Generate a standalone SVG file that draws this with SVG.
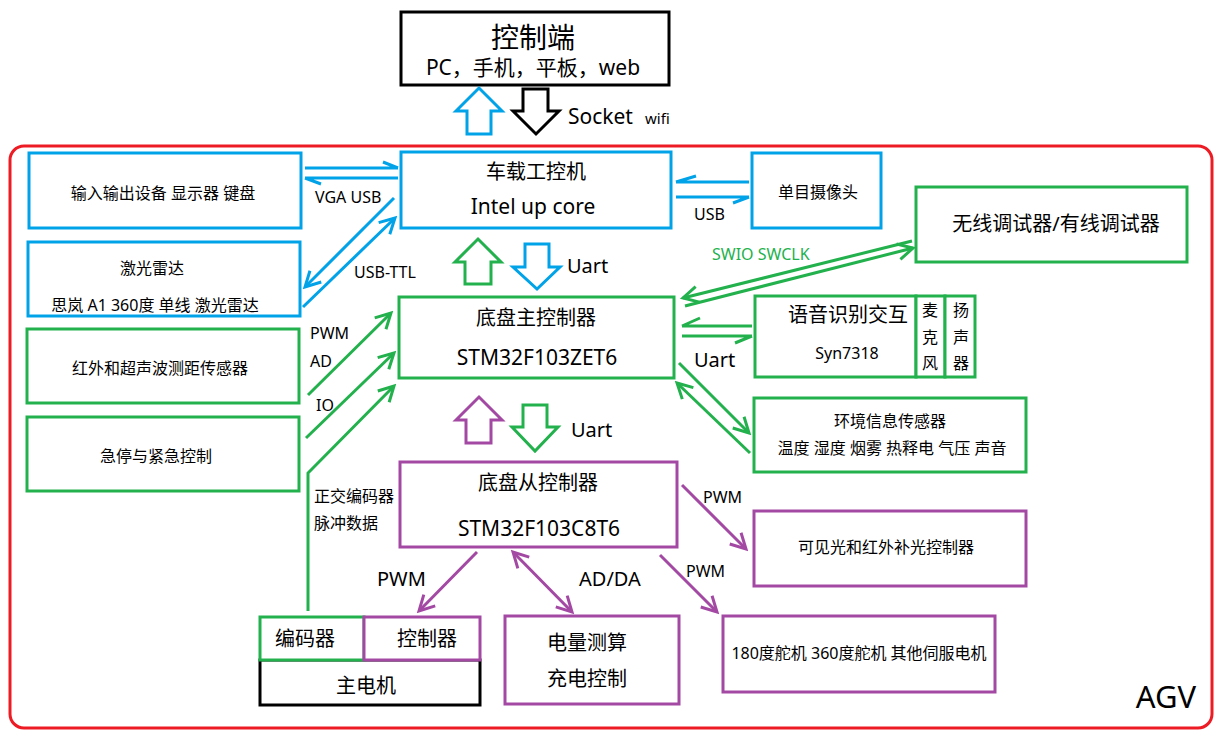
<svg xmlns="http://www.w3.org/2000/svg" width="1222" height="746" viewBox="0 0 1222 746">
<style>
text{font-family:"Noto Sans","Noto Sans CJK SC",sans-serif;fill:#000;text-anchor:middle}
.s{font-size:16px}.m{font-size:20px}.l{font-size:21px}
.st{text-anchor:start}
.bb{fill:#fff;stroke:#00a2e8;stroke-width:3}
.gb{fill:#fff;stroke:#22b14c;stroke-width:3}
.pb{fill:#fff;stroke:#a349a4;stroke-width:3}
.kb{fill:#fff;stroke:#000;stroke-width:3}
.bl{fill:none;stroke:#00a2e8;stroke-width:3}
.gl{fill:none;stroke:#22b14c;stroke-width:3}
.pl{fill:none;stroke:#a349a4;stroke-width:3}
.ba{marker-end:url(#hb)}.ga{marker-end:url(#hg)}.pa{marker-end:url(#hp)}
</style>
<defs>
<marker id="hb" markerWidth="20" markerHeight="20" refX="17" refY="10" orient="auto" markerUnits="userSpaceOnUse"><path d="M2,2 L17,10 L2,18" fill="none" stroke="#00a2e8" stroke-width="3"/></marker>
<marker id="hg" markerWidth="20" markerHeight="20" refX="17" refY="10" orient="auto" markerUnits="userSpaceOnUse"><path d="M2,2 L17,10 L2,18" fill="none" stroke="#22b14c" stroke-width="3"/></marker>
<marker id="hp" markerWidth="20" markerHeight="20" refX="17" refY="10" orient="auto" markerUnits="userSpaceOnUse"><path d="M2,2 L17,10 L2,18" fill="none" stroke="#a349a4" stroke-width="3"/></marker>
<marker id="hps" markerWidth="20" markerHeight="20" refX="17" refY="10" orient="auto-start-reverse" markerUnits="userSpaceOnUse"><path d="M2,2 L17,10 L2,18" fill="none" stroke="#a349a4" stroke-width="3"/></marker>
</defs>
<rect width="1222" height="746" fill="#fff"/>

<g id="agv-frame">
<rect x="10" y="146" width="1202" height="582" rx="14" fill="none" stroke="#ed1c24" stroke-width="3"/>
<text x="1166" y="708" style="font-size:31px">AGV</text>
</g>

<g id="control">
<rect class="kb" x="401" y="12" width="268" height="73"/>
<text x="533" y="48" style="font-size:28px">控制端</text>
<text x="533" y="75" class="l">PC，手机，平板，web</text>
</g>

<g id="ipc">
<rect class="bb" x="401" y="152" width="270" height="76"/>
<text x="536" y="179" class="m">车载工控机</text>
<text x="533" y="214" class="l">Intel up core</text>
</g>

<g id="master">
<rect class="gb" x="399" y="297" width="275" height="81"/>
<text x="536" y="325" class="m">底盘主控制器</text>
<text x="537" y="365" class="l">STM32F103ZET6</text>
</g>

<g id="slave">
<rect class="pb" x="400" y="462" width="277" height="85"/>
<text x="538" y="490" class="m">底盘从控制器</text>
<text x="539" y="536" class="l">STM32F103C8T6</text>
</g>

<g id="io-dev">
<rect class="bb" x="29" y="153" width="272" height="75"/>
<text x="163" y="199" class="s">输入输出设备 显示器 键盘</text>
</g>
<g id="lidar">
<rect class="bb" x="28" y="242" width="272" height="74"/>
<text x="152" y="274" class="s">激光雷达</text>
<text x="155" y="311" class="s">思岚 A1 360度 单线 激光雷达</text>
</g>
<g id="range">
<rect class="gb" x="27" y="329" width="272" height="74"/>
<text x="160" y="374" class="s">红外和超声波测距传感器</text>
</g>
<g id="estop">
<rect class="gb" x="27" y="417" width="272" height="74"/>
<text x="156" y="462" class="s">急停与紧急控制</text>
</g>

<g id="camera">
<rect class="bb" x="752" y="153" width="129" height="75"/>
<text x="818" y="198" class="s">单目摄像头</text>
</g>
<g id="debugger">
<rect class="gb" x="916" y="187" width="271" height="75"/>
<text x="1056" y="231" class="m">无线调试器/有线调试器</text>
</g>
<g id="voice">
<rect class="gb" x="755" y="296" width="161" height="81"/>
<text x="848" y="322" class="m">语音识别交互</text>
<text x="847" y="359" class="s">Syn7318</text>
</g>
<g id="mic">
<rect class="gb" x="916" y="296" width="29" height="81"/>
<text x="930" y="316" class="s">麦</text>
<text x="930" y="343" class="s">克</text>
<text x="930" y="369" class="s">风</text>
</g>
<g id="speaker">
<rect class="gb" x="945" y="296" width="30" height="81"/>
<text x="961" y="316" class="s">扬</text>
<text x="961" y="343" class="s">声</text>
<text x="961" y="369" class="s">器</text>
</g>
<g id="env">
<rect class="gb" x="754" y="398" width="272" height="74"/>
<text x="890" y="427" class="s">环境信息传感器</text>
<text x="892" y="454" class="s">温度 湿度 烟雾 热释电 气压 声音</text>
</g>
<g id="light">
<rect class="pb" x="754" y="511" width="272" height="75"/>
<text x="886" y="553" class="s">可见光和红外补光控制器</text>
</g>
<g id="servo">
<rect class="pb" x="723" y="616" width="272" height="76"/>
<text x="859" y="659" class="s">180度舵机 360度舵机 其他伺服电机</text>
</g>
<g id="power">
<rect class="pb" x="505" y="616" width="174" height="88"/>
<text x="587" y="650" class="m">电量测算</text>
<text x="587" y="686" class="m">充电控制</text>
</g>
<g id="motor">
<rect class="kb" x="260" y="660" width="220" height="45"/>
<text x="366" y="693" class="m">主电机</text>
</g>
<g id="encoder">
<rect class="gb" x="260" y="617" width="104" height="43"/>
<text x="305" y="646" class="m">编码器</text>
</g>
<g id="motor-ctrl">
<rect class="pb" x="364" y="617" width="116" height="43"/>
<text x="427" y="646" class="m">控制器</text>
</g>

<g id="connectors">
<path d="M456,111 L479,88 L502,111 L491,111 L491,134 L467,134 L467,111 Z" fill="#fff" stroke="#00a2e8" stroke-width="3" stroke-linejoin="miter"/>
<path d="M523,89 L548,89 L548,111 L559,111 L536,134 L513,111 L523,111 Z" fill="#fff" stroke="#000" stroke-width="3"/>
<path d="M455,262 L478,239 L501,262 L491,262 L491,284 L465,284 L465,262 Z" fill="#fff" stroke="#22b14c" stroke-width="3"/>
<path d="M525,244 L549,244 L549,267 L560,267 L537,289 L513,267 L525,267 Z" fill="#fff" stroke="#00a2e8" stroke-width="3"/>
<path d="M456,420 L479,397 L502,420 L491,420 L491,443 L466,443 L466,420 Z" fill="#fff" stroke="#a349a4" stroke-width="3"/>
<path d="M523,405 L547,405 L547,427 L558,427 L535,451 L512,427 L523,427 Z" fill="#fff" stroke="#22b14c" stroke-width="3"/>

<path class="bl" d="M305,168 H398 M383,162 L398,168"/>
<path class="bl" d="M305,178 H398 M305,178 L321,184"/>
<path class="bl ba" d="M394,198 L305,287"/>
<path class="bl ba" d="M303,307 L395,218"/>
<path class="bl" d="M676,182 H749 M676,182 L696,176"/>
<path class="bl" d="M676,197 H749 M749,197 L733,203"/>

<path class="gl ga" d="M308,395 L391,313"/>
<path class="gl ga" d="M306,438 L394,353"/>
<path class="gl ga" d="M308,611 L308,473 L394,386"/>
<path class="gl ga" d="M912,241 L683,298"/>
<path class="gl ga" d="M685,306 L913,248"/>
<path class="gl" d="M682,326 H752 M682,326 L700,318"/>
<path class="gl" d="M682,336 H752 M752,336 L735,343"/>
<path class="gl ga" d="M679,363 L749,433"/>
<path class="gl ga" d="M750,453 L677,383"/>

<path class="pl pa" d="M682,485 L746,549"/>
<path class="pl pa" d="M660,555 L717,612"/>
<path class="pl pa" d="M477,552 L419,611"/>
<path class="pl" d="M513,552 L572,612" marker-start="url(#hps)" marker-end="url(#hps)"/>

<text x="568" y="124" class="l st">Socket</text>
<text x="645" y="124" class="st" style="font-size:15px">wifi</text>
<text x="567" y="273" class="m st">Uart</text>
<text x="571" y="437" class="m st">Uart</text>
<text x="694" y="367" class="m st">Uart</text>
<text x="315" y="203" class="s st">VGA USB</text>
<text x="354" y="278" class="s st">USB-TTL</text>
<text x="694" y="220" class="s st">USB</text>
<text x="712" y="260" class="s st" style="fill:#22b14c">SWIO SWCLK</text>
<text x="310" y="339" class="s st">PWM</text>
<text x="310" y="367" class="s st">AD</text>
<text x="316" y="411" class="s st">IO</text>
<text x="314" y="502" class="s st">正交编码器</text>
<text x="314" y="529" class="s st">脉冲数据</text>
<text x="703" y="503" class="s st">PWM</text>
<text x="686" y="577" class="s st">PWM</text>
<text x="377" y="586" class="m st">PWM</text>
<text x="579" y="586" class="m st">AD/DA</text>
</g>
</svg>
